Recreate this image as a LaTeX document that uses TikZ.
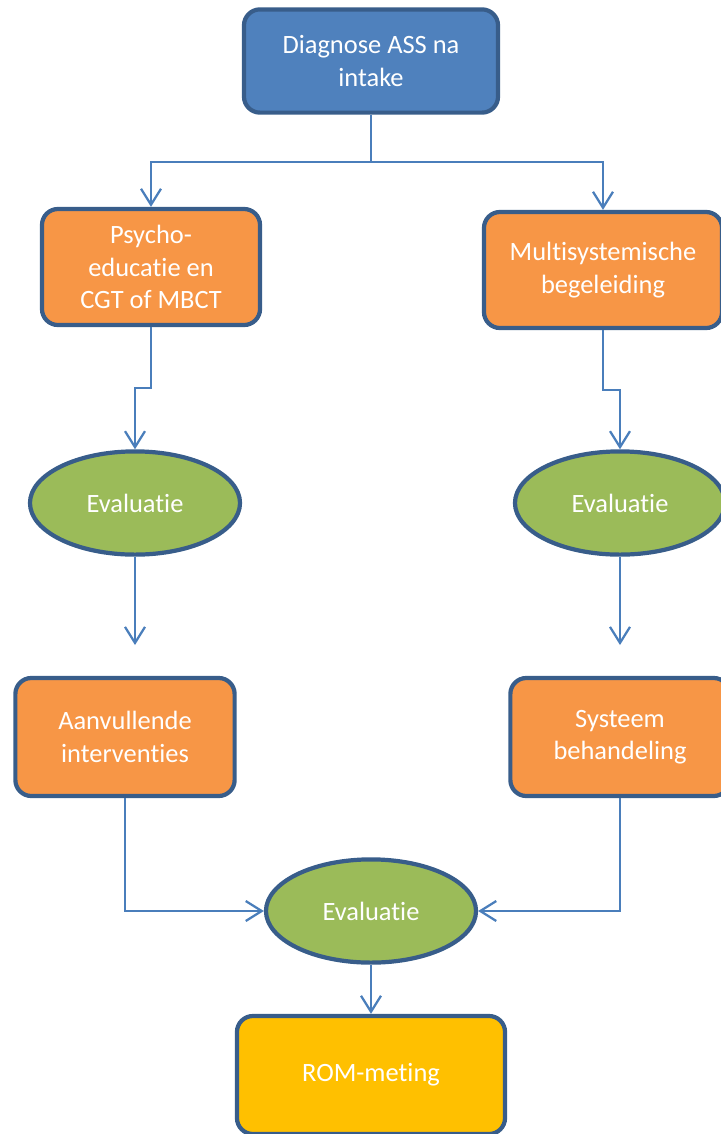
\documentclass[tikz,border=0pt]{standalone}
\usepackage{fontspec}
\setmainfont{Carlito}[Ligatures=NoCommon]
\usetikzlibrary{shapes.geometric,arrows.meta}
\definecolor{boxblue}{HTML}{4F81BD}
\definecolor{rimblue}{HTML}{385D8A}
\definecolor{boxorange}{HTML}{F79646}
\definecolor{evalgreen}{HTML}{9BBB59}
\definecolor{romgold}{HTML}{FFC000}
\definecolor{linkblue}{HTML}{4A7EBB}
\tikzset{
  stapbox/.style={draw=rimblue,line width=3pt,rounded corners=0.4cm,text=white,align=center,
    inner sep=0pt,font=\fontsize{18.8}{23}\selectfont},
  evalnode/.style={ellipse,draw=rimblue,line width=3pt,fill=evalgreen,text=white,inner sep=0pt,
    minimum width=5.25cm,minimum height=2.58cm,font=\fontsize{18.8}{23}\selectfont},
  link/.style={draw=linkblue,line width=1.6pt,-{Straight Barb[length=4mm,width=5mm]}}
}

\begin{document}
\begin{tikzpicture}[x=0.025cm,y=-0.025cm]
    \useasboundingbox (0,0) rectangle (721,1134);
    \node[stapbox,fill=boxblue,minimum width=6.35cm,minimum height=2.58cm] (diag) at (371,61) {Diagnose ASS na\\intake};
    \node[stapbox,fill=boxorange,minimum width=5.45cm,minimum height=2.9cm] (psycho) at (151,267) {Psycho-\\educatie en\\CGT of MBCT};
    \node[stapbox,fill=boxorange,minimum width=5.95cm,minimum height=2.9cm] (multi) at (603,270) {Multisystemische\\begeleiding};
    \node[evalnode] (evalL) at (135,503) {Evaluatie};
    \node[evalnode] (evalR) at (620,503) {Evaluatie};
    \coordinate (tipL) at (135,645);
    \coordinate (tipR) at (620,645);
    \node[stapbox,fill=boxorange,minimum width=5.48cm,minimum height=2.95cm] (aanv) at (125,737) {Aanvullende\\interventies};
    \node[stapbox,fill=boxorange,minimum width=5.48cm,minimum height=2.95cm] (syst) at (620,737) {Systeem\\behandeling};
    \node[evalnode] (evalB) at (371,911) {Evaluatie};
    \node[stapbox,fill=romgold,minimum width=6.7cm,minimum height=2.95cm] (rom) at (371,1075) {ROM-meting};
    % verbindingen
    \draw[link] (diag.south) -- ++(0,47) -| (psycho.north);
    \draw[link] (diag.south) -- ++(0,47) -| (multi.north);
    \draw[link] (psycho.south) -- ++(0,61) -| (evalL.north);
    \draw[link] (multi.south) -- ++(0,60) -| (evalR.north);
    \draw[link] (evalL.south) -- (tipL);
    \draw[link] (evalR.south) -- (tipR);
    \draw[link] (aanv.south) |- (evalB.west);
    \draw[link] (syst.south) |- (evalB.east);
    \draw[link] (evalB.south) -- (rom.north);
\end{tikzpicture}
\end{document}
